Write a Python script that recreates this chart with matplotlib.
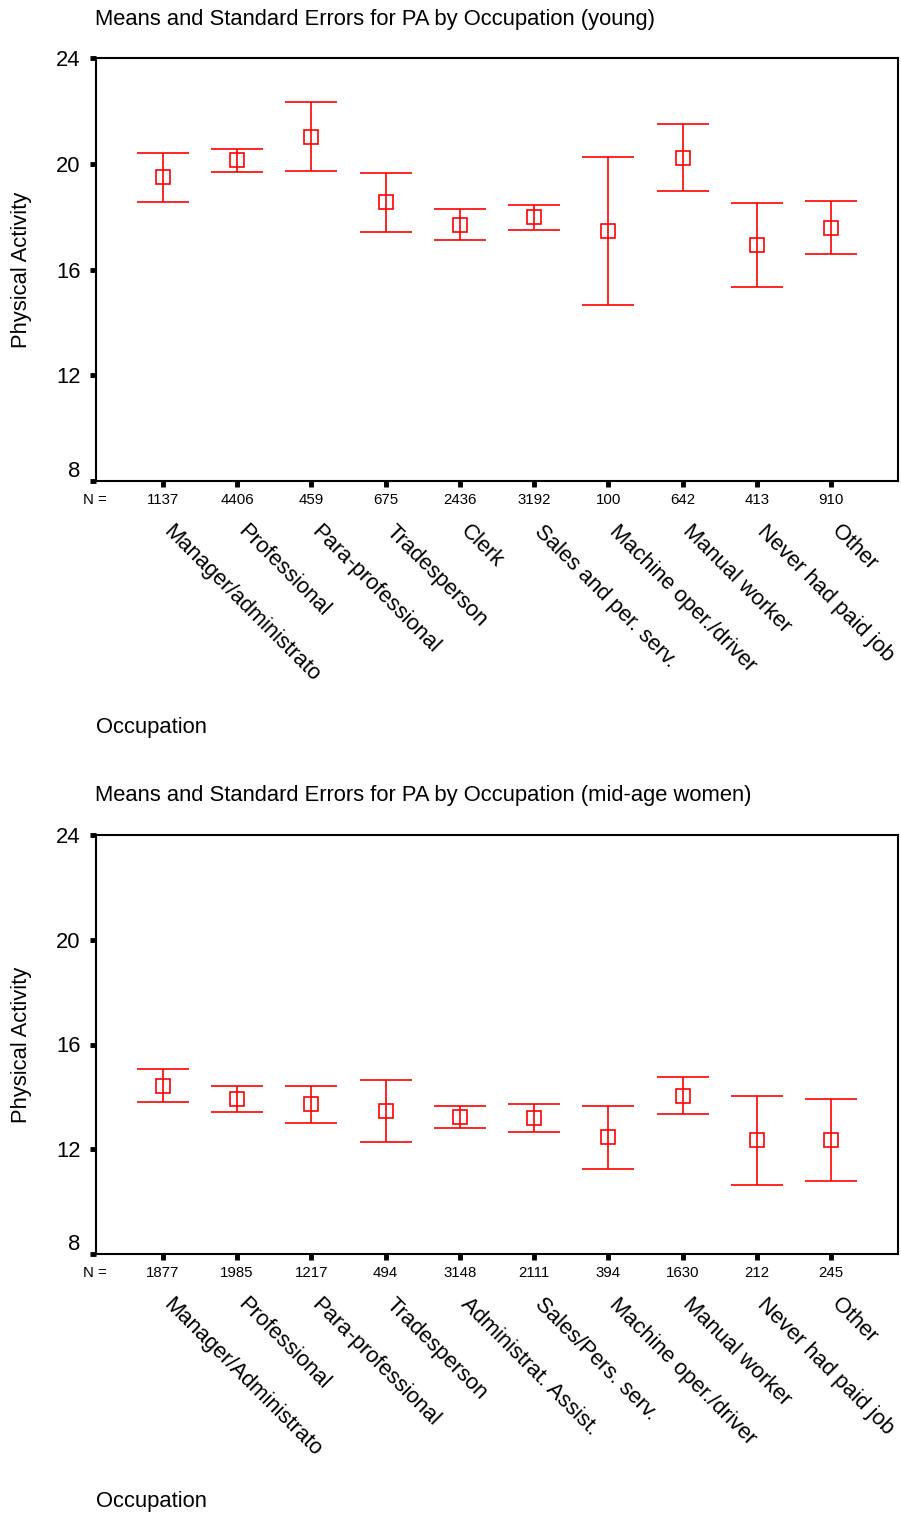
import matplotlib
matplotlib.use("Agg")
import matplotlib.pyplot as plt
import matplotlib.transforms as mtransforms
import numpy as np

plt.rcParams["font.family"] = ["Liberation Sans", "DejaVu Sans"]

# young women
young_occ = ["Manager/administrato", "Professional", "Para-professional",
             "Tradesperson", "Clerk", "Sales and per. serv.",
             "Machine oper./driver", "Manual worker", "Never had paid job", "Other"]
young_n = [1137, 4406, 459, 675, 2436, 3192, 100, 642, 413, 910]
young_mean = [19.49, 20.13, 21.03, 18.54, 17.70, 17.97, 17.46, 20.23, 16.93, 17.58]
young_err = [0.92, 0.43, 1.31, 1.12, 0.58, 0.46, 2.80, 1.27, 1.58, 1.00]

# mid-age women
mid_occ = ["Manager/Administrato", "Professional", "Para-professional",
           "Tradesperson", "Administrat. Assist.", "Sales/Pers. serv.",
           "Machine oper./driver", "Manual worker", "Never had paid job", "Other"]
mid_n = [1877, 1985, 1217, 494, 3148, 2111, 394, 1630, 212, 245]
mid_mean = [14.43, 13.93, 13.72, 13.46, 13.23, 13.19, 12.45, 14.04, 12.34, 12.35]
mid_err = [0.63, 0.50, 0.70, 1.20, 0.43, 0.54, 1.20, 0.70, 1.70, 1.55]

W, H = 901, 1519
BIG = 15.8
SMALL = 10.8
fig = plt.figure(figsize=(W / 100, H / 100), dpi=100)


def panel(top_px, bottom_px, title, occ, n, mean, err):
    left_px, right_px = 96, 898
    ax = fig.add_axes([left_px / W, 1 - bottom_px / H,
                       (right_px - left_px) / W, (bottom_px - top_px) / H])
    x = np.arange(1, len(occ) + 1)
    ax.errorbar(x, mean, yerr=err, fmt="s", color="red", ecolor="red",
                mfc="none", mec="red", ms=9.5, mew=1.2, elinewidth=1.2,
                capsize=19, capthick=1.2)
    ax.set_xlim(0.1, 10.9)
    ax.set_ylim(8, 24)
    ax.set_yticks([8, 12, 16, 20, 24])
    ax.set_xticks(x)
    ax.set_xticklabels([])
    for s in ax.spines.values():
        s.set_linewidth(1.5)
    ax.tick_params(axis="both", direction="out", length=4, width=3.5,
                   labelsize=BIG, pad=7)
    # lowest y label sits a little above its tick
    lab8 = ax.get_yticklabels()[0]
    lab8.set_transform(lab8.get_transform() +
                       mtransforms.ScaledTranslation(0, 12 / 100, fig.dpi_scale_trans))

    # N row under the axis
    ax.annotate("N =", xy=(0, 0), xycoords="axes fraction",
                xytext=(-13, -19), textcoords="offset pixels",
                ha="left", va="center", fontsize=SMALL)
    for xi, ni in zip(x, n):
        ax.annotate(str(ni), xy=(xi, 0), xycoords=("data", "axes fraction"),
                    xytext=(0, -19), textcoords="offset pixels",
                    ha="center", va="center", fontsize=SMALL)
    # slanted category names
    for xi, name in zip(x, occ):
        ax.annotate(name, xy=(xi, 0), xycoords=("data", "axes fraction"),
                    xytext=(11, -40), textcoords="offset pixels",
                    ha="left", va="top", rotation=-45,
                    rotation_mode="anchor", fontsize=BIG)

    fig.text(95 / W, 1 - (top_px - 39) / H, title, ha="left", va="center",
             fontsize=BIG)
    fig.text(22 / W, 1 - (top_px + bottom_px) / 2 / H, "Physical Activity",
             rotation=90, ha="center", va="center", fontsize=BIG)
    fig.text(96 / W, 1 - (bottom_px + 247) / H, "Occupation",
             ha="left", va="center", fontsize=BIG)
    return ax


panel(58, 481, "Means and Standard Errors for PA by Occupation (young)",
      young_occ, young_n, young_mean, young_err)
panel(835, 1254, "Means and Standard Errors for PA by Occupation (mid-age women)",
      mid_occ, mid_n, mid_mean, mid_err)

fig.savefig("out.png", dpi=100, facecolor="white")
